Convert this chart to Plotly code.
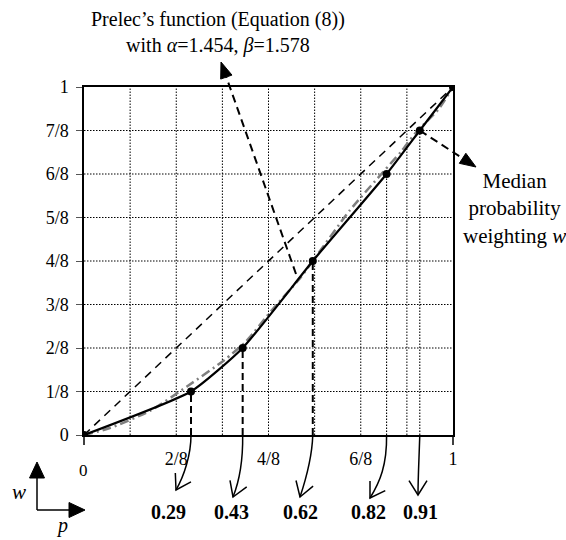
import math
import plotly.graph_objects as go

# ---------------- data ----------------
median_p = [0, 0.29, 0.43, 0.62, 0.82, 0.91, 1.0]
median_w = [0, 1/8, 2/8, 4/8, 6/8, 7/8, 1.0]

# Prelec curve
prelec_p = [0, 0.07, 0.18, 0.28, 0.38, 0.44, 0.51, 0.585, 0.62, 0.72, 0.81, 0.86, 0.90, 0.96, 1.0]
prelec_w = [0, 0.02, 0.07, 0.14, 0.215, 0.27, 0.36, 0.45, 0.50, 0.645, 0.755, 0.815, 0.87, 0.935, 1.0]

diag_x = [0, 1]
diag_y = [0, 1]

labelled_p = [0.29, 0.43, 0.62, 0.82, 0.91]
labelled_w = [1/8, 2/8, 4/8, 6/8, 7/8]
drop_style = ["7px,4px", "7px,4px", "7px,4px", "1.5px,1.5px", "1.5px,1.5px"]

x_tick_vals = [1/8, 2/8, 3/8, 4/8, 5/8, 6/8, 7/8, 1.0]
x_tick_text = ["", "2/8", "", "4/8", "", "6/8", "", "1"]
y_tick_vals = [0, 1/8, 2/8, 3/8, 4/8, 5/8, 6/8, 7/8, 1.0]
y_tick_text = ["0", "1/8", "2/8", "3/8", "4/8", "5/8", "6/8", "7/8", "1"]

# ---------------- layout geometry (pixels) ----------------
W, H = 566, 540
PL, PR, PT, PB = 84, 453, 87, 435
PW, PH = PR - PL, PB - PT
SERIF = "Liberation Serif, Times New Roman, serif"
GRID_DASH = "1.5px,1.5px"


def px(x):
    return (x - PL) / PW


def py(y):
    return (PB - y) / PH


def to_px(xp, yp):
    return PL + xp * PW, PB - yp * PH


# bottom curved arrows: (c1, c2, tip, label_x) in pixels
curve_geom = [
    ((191, 455), (184, 476), (176, 490), 168),
    ((243, 460), (239, 482), (233, 497), 231),
    ((312, 460), (305, 482), (300, 497), 300),
    ((387, 465), (380, 482), (370, 498), 368),
    ((419, 460), (418, 478), (418, 495), 420),
]

fig = go.Figure()

# dotted grid drawn at the tick values
for v in x_tick_vals[:-1]:
    fig.add_trace(go.Scatter(x=[v, v], y=[0, 1], mode="lines",
                             line=dict(color="black", width=1, dash=GRID_DASH),
                             hoverinfo="skip", showlegend=False))
for v in y_tick_vals[1:-1]:
    fig.add_trace(go.Scatter(x=[0, 1], y=[v, v], mode="lines",
                             line=dict(color="black", width=1, dash=GRID_DASH),
                             hoverinfo="skip", showlegend=False))

# diagonal
fig.add_trace(go.Scatter(x=diag_x, y=diag_y, mode="lines",
                         line=dict(color="black", width=1.5, dash="8px,6px"),
                         hoverinfo="skip", showlegend=False))

# drop lines
for p, w, d in zip(labelled_p, labelled_w, drop_style):
    fig.add_trace(go.Scatter(x=[p, p], y=[0, w], mode="lines",
                             line=dict(color="black", width=2 if d.startswith("7") else 1.1, dash=d),
                             hoverinfo="skip", showlegend=False))

# Prelec curve
fig.add_trace(go.Scatter(x=prelec_p, y=prelec_w, mode="lines",
                         line=dict(color="#7f7f7f", width=2.5, dash="9px,4px,2px,4px",
                                   shape="spline", smoothing=0.6),
                         hoverinfo="skip", showlegend=False))

# median weighting
fig.add_trace(go.Scatter(x=median_p, y=median_w, mode="lines+markers",
                         line=dict(color="black", width=2.2, shape="spline", smoothing=0.5),
                         marker=dict(color="black", size=8),
                         hoverinfo="skip", showlegend=False))

shapes = []
annotations = []


def seg(x0, y0, x1, y1, width=1.5, dash=None):
    ln = dict(color="black", width=width)
    if dash:
        ln["dash"] = dash
    shapes.append(dict(type="line", xref="paper", yref="paper",
                       x0=px(x0), y0=py(y0), x1=px(x1), y1=py(y1), line=ln))


def path(d_pts, closed=False, fill=False, width=1.5, dash=None):
    s = "M {},{}".format(px(d_pts[0][0]), py(d_pts[0][1]))
    for q in d_pts[1:]:
        s += " L {},{}".format(px(q[0]), py(q[1]))
    if closed:
        s += " Z"
    ln = dict(color="black", width=width)
    if dash:
        ln["dash"] = dash
    sh = dict(type="path", xref="paper", yref="paper", path=s, line=ln)
    if fill:
        sh["fillcolor"] = "black"
    shapes.append(sh)


def tri(tail, tip, L=16, Wd=12):
    dx, dy = tip[0] - tail[0], tip[1] - tail[1]
    n = math.hypot(dx, dy)
    ux, uy = dx / n, dy / n
    bx, by = tip[0] - ux * L, tip[1] - uy * L
    nx, ny = -uy, ux
    path([tip, (bx + nx * Wd / 2, by + ny * Wd / 2), (bx - nx * Wd / 2, by - ny * Wd / 2)],
         closed=True, fill=True, width=1)
    return bx, by


# Prelec arrow
prelec_tail = (296, 274)
prelec_tip = (221, 62)
b = tri(prelec_tail, prelec_tip)
seg(prelec_tail[0], prelec_tail[1], b[0], b[1], width=2, dash="8px,5px")

# Median arrow from the point (0.91, 7/8)
mt = to_px(labelled_p[-1], labelled_w[-1])
median_tip = (476, 167)
b = tri(mt, median_tip)
seg(mt[0], mt[1], b[0], b[1], width=2, dash="8px,5px")

# bottom curved arrows + labels
for p, (c1, c2, tip, lx) in zip(labelled_p, curve_geom):
    sx, sy = to_px(p, 0)
    d = "M {},{} C {},{} {},{} {},{}".format(px(sx), py(sy), px(c1[0]), py(c1[1]),
                                              px(c2[0]), py(c2[1]), px(tip[0]), py(tip[1]))
    shapes.append(dict(type="path", xref="paper", yref="paper", path=d,
                       line=dict(color="black", width=1.5)))
    bx, by = c2[0] - tip[0], c2[1] - tip[1]
    n = math.hypot(bx, by)
    ux, uy = bx / n, by / n
    arms = []
    for ang in (math.radians(32), -math.radians(32)):
        rx = ux * math.cos(ang) - uy * math.sin(ang)
        ry = ux * math.sin(ang) + uy * math.cos(ang)
        arms.append((tip[0] + rx * 17, tip[1] + ry * 17))
    path([arms[0], tip, arms[1]], width=1.5)
    annotations.append(dict(x=px(lx), y=py(512), xref="paper", yref="paper",
                            text="<b>{:.2f}</b>".format(p), showarrow=False,
                            font=dict(family=SERIF, size=20, color="black"),
                            xanchor="center", yanchor="middle"))

# x ticks at 0 and 1
seg(PL, PB, PL, PB + 10, width=1.5)
seg(PR, PB, PR, PB + 10, width=1.5)

# w / p indicator
seg(37, 510, 37, 476, width=1.5)
tri((37, 510), (37, 462), L=16, Wd=15)
seg(37, 510, 70, 510, width=1.5)
tri((37, 510), (85, 510), L=16, Wd=15)

annotations += [
    dict(x=px(218), y=py(32), xref="paper", yref="paper",
         text="Prelec’s function (Equation (8))<br>with <i>α</i>=1.454, <i>β</i>=1.578",
         showarrow=False, font=dict(family=SERIF, size=20, color="black"),
         align="center", xanchor="center", yanchor="middle"),
    dict(x=px(514), y=py(208), xref="paper", yref="paper",
         text="Median<br>probability<br>weighting <i>w</i>",
         showarrow=False, font=dict(family=SERIF, size=21, color="black"),
         align="center", xanchor="center", yanchor="middle"),
    dict(x=px(83), y=py(470), xref="paper", yref="paper", text="0",
         showarrow=False, font=dict(family=SERIF, size=17, color="black"),
         xanchor="center", yanchor="middle"),
    dict(x=px(19), y=py(492), xref="paper", yref="paper", text="<i>w</i>",
         showarrow=False, font=dict(family=SERIF, size=21, color="black"),
         xanchor="center", yanchor="middle"),
    dict(x=px(62), y=py(525), xref="paper", yref="paper", text="<i>p</i>",
         showarrow=False, font=dict(family=SERIF, size=20, color="black"),
         xanchor="center", yanchor="middle"),
]

fig.update_layout(
    width=W, height=H,
    margin=dict(l=PL, r=W - PR, t=PT, b=H - PB, pad=0),
    paper_bgcolor="white", plot_bgcolor="white",
    showlegend=False,
    shapes=shapes, annotations=annotations,
    font=dict(family=SERIF, size=17, color="black"),
)
fig.update_xaxes(range=[0, 1], tickvals=x_tick_vals, ticktext=x_tick_text,
                 showline=True, linecolor="black", linewidth=1.5, mirror=True,
                 showgrid=False, zeroline=False, ticks="", ticklabelstandoff=7,
                 tickfont=dict(family=SERIF, size=18, color="black"), fixedrange=True)
fig.update_yaxes(range=[0, 1], tickvals=y_tick_vals, ticktext=y_tick_text,
                 showline=True, linecolor="black", linewidth=1.5, mirror=True,
                 showgrid=False, zeroline=False, ticks="outside", ticklen=6,
                 tickcolor="#555", tickwidth=1, ticklabelstandoff=4,
                 tickfont=dict(family=SERIF, size=18, color="black"), fixedrange=True)

fig.write_html("out.html")
